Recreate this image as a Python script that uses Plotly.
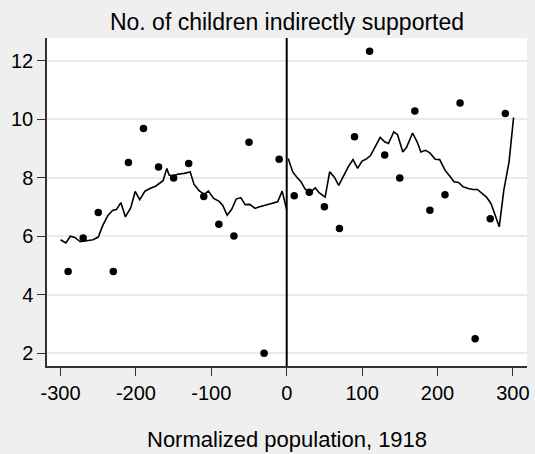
import plotly.graph_objects as go

# Binned scatter (bin centers) and means
bin_x = [-290, -270, -250, -230, -210, -190, -170, -150, -130, -110, -90, -70, -50, -30, -10,
         10, 30, 50, 70, 90, 110, 130, 150, 170, 190, 210, 230, 250, 270, 290]
bin_y = [4.79, 5.94, 6.81, 4.79, 8.52, 9.68, 8.37, 7.99, 8.49, 7.36, 6.41, 6.01, 9.21, 2.00, 8.63,
         7.38, 7.50, 7.01, 6.26, 9.40, 12.33, 8.78, 7.99, 10.28, 6.89, 7.42, 10.56, 2.49, 6.60, 10.20]

# Fitted line, left of cutoff
fit_left_x = [-300, -293, -287, -281, -274, -266, -257, -250, -244, -237, -231, -226, -220, -214,
              -207, -201, -195, -188, -181, -174, -166, -164, -159, -156, -151, -145, -136, -128,
              -123, -116, -109, -104, -97, -90, -85, -79, -73, -67, -61, -55, -49, -42, -37, -28,
              -19, -12, -6, 0]
fit_left_y = [5.88, 5.77, 6.00, 5.96, 5.81, 5.84, 5.88, 5.97, 6.37, 6.72, 6.88, 6.91, 7.15, 6.66,
              6.97, 7.53, 7.25, 7.54, 7.64, 7.71, 7.84, 7.90, 8.32, 8.09, 8.05, 8.12, 8.15, 8.20,
              7.78, 7.55, 7.43, 7.55, 7.29, 7.20, 7.06, 6.72, 6.92, 7.27, 7.32, 7.08, 7.09, 6.95,
              7.00, 7.07, 7.14, 7.18, 7.54, 6.90]

# Fitted line, right of cutoff
fit_right_x = [2, 8, 14, 19, 24, 30, 34, 38, 43, 51, 57, 63, 69, 76, 82, 88, 94, 100, 105, 111,
               118, 124, 130, 135, 142, 147, 154, 159, 167, 173, 178, 184, 190, 197, 203, 210,
               217, 222, 228, 234, 241, 247, 253, 259, 265, 271, 276, 282, 288, 295, 301]
fit_right_y = [8.66, 8.20, 8.00, 7.86, 7.63, 7.49, 7.57, 7.65, 7.49, 7.34, 8.20, 8.03, 7.74, 8.09,
               8.39, 8.62, 8.32, 8.57, 8.63, 8.75, 9.08, 9.38, 9.23, 9.17, 9.57, 9.48, 8.88, 9.04,
               9.53, 9.23, 8.88, 8.94, 8.85, 8.63, 8.62, 8.26, 8.03, 7.86, 7.84, 7.69, 7.63, 7.60,
               7.60, 7.48, 7.34, 7.12, 6.77, 6.32, 7.57, 8.54, 10.06]

x_ticks = [-300, -200, -100, 0, 100, 200, 300]
y_ticks = [2, 4, 6, 8, 10, 12]

FONT = "Liberation Sans, Arial, sans-serif"

fig = go.Figure()
fig.add_trace(go.Scatter(x=bin_x, y=bin_y, mode="markers",
                         marker=dict(color="black", size=7.5), showlegend=False))
fig.add_trace(go.Scatter(x=fit_left_x, y=fit_left_y, mode="lines",
                         line=dict(color="black", width=1.6), showlegend=False))
fig.add_trace(go.Scatter(x=fit_right_x, y=fit_right_y, mode="lines",
                         line=dict(color="black", width=1.6), showlegend=False))

fig.add_shape(type="line", xref="x", yref="paper", x0=0, x1=0, y0=0, y1=1,
              line=dict(color="black", width=2))

fig.update_layout(
    width=535, height=454,
    margin=dict(l=47, r=6, t=38, b=88),
    paper_bgcolor="#efefef",
    plot_bgcolor="white",
    font=dict(family=FONT, color="black", size=20),
    title=dict(text="No. of children indirectly supported", x=0.5, xref="paper",
               y=1 - 22 / 454, yref="container", yanchor="middle", xanchor="center",
               font=dict(size=23, family=FONT, color="black")),
)
fig.update_xaxes(range=[-318, 318.8], tickvals=x_ticks, ticktext=[str(v) for v in x_ticks],
                 showgrid=False, zeroline=False, showline=True, linecolor="#333333",
                 linewidth=1.5, ticks="outside", ticklen=8, tickcolor="#333333",
                 tickwidth=1.3, tickfont=dict(size=20))
fig.update_yaxes(range=[1.56, 12.78], tickvals=y_ticks, ticktext=[str(v) for v in y_ticks],
                 showgrid=True, gridcolor="#eaeaea", gridwidth=1.5, zeroline=False,
                 showline=True, linecolor="#333333", linewidth=1.5, ticks="outside",
                 ticklen=8, tickcolor="#333333", tickwidth=1.3, tickfont=dict(size=20))

fig.add_annotation(text="Normalized population, 1918", xref="paper", yref="paper",
                   x=0.5, y=-(438.5 - 365.5) / (365.5 - 38), xanchor="center",
                   yanchor="middle", showarrow=False, font=dict(size=22, family=FONT))

fig.write_html("out.html")
